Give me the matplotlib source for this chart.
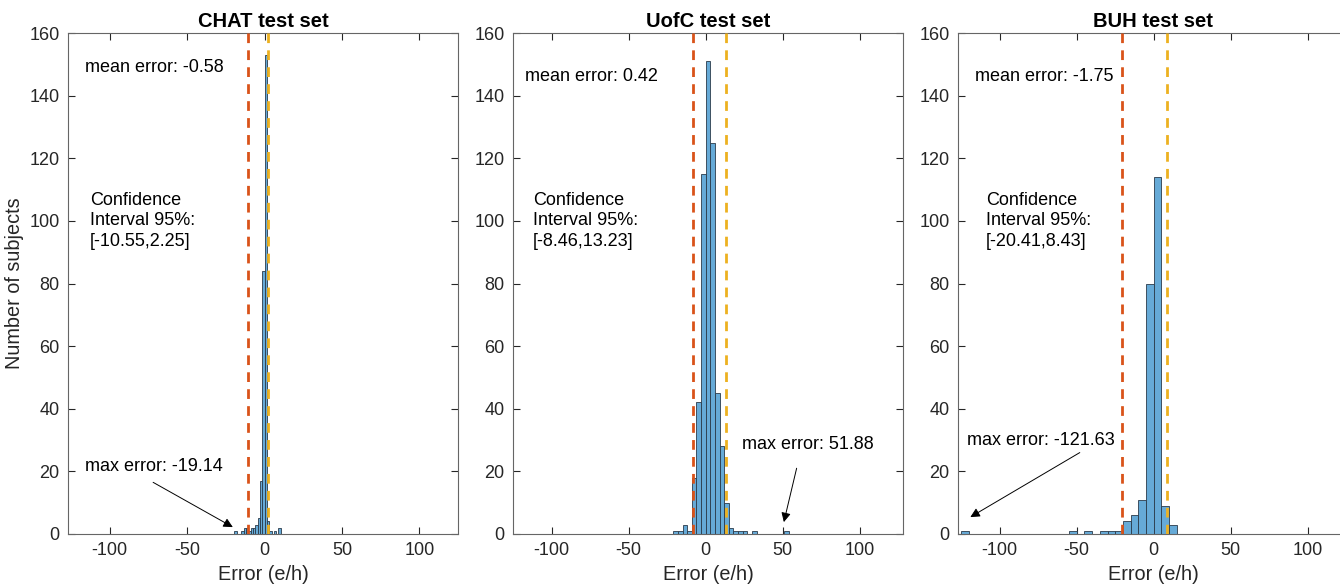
import numpy as np
import matplotlib
matplotlib.use("Agg")
from matplotlib import pyplot as plt

plt.rcParams['font.family'] = ['Liberation Sans', 'DejaVu Sans']
plt.rcParams['axes.unicode_minus'] = False

# -- data: histogram bin edges (left) and counts per test set -- #
chat_edges = [-19.5, -18, -16.5, -15, -13.5, -12, -10.5, -9, -7.5, -6, -4.5, -3, -1.5, 0, 1.5, 3, 4.5, 6, 7.5, 9]
chat_counts = [1, 0, 0, 1, 2, 2, 1, 2, 2, 3, 5, 17, 84, 153, 4, 1, 0, 1, 0, 2]
chat_width = 1.5

uofc_edges = [-21, -18, -15, -12, -9, -6, -3, 0, 3, 6, 9, 12, 15, 18, 21, 24, 27, 30, 33, 36, 39, 42, 45, 48, 51]
uofc_counts = [1, 1, 3, 1, 18, 42, 115, 151, 125, 45, 28, 10, 2, 1, 1, 1, 0, 1, 0, 0, 0, 0, 0, 0, 1]
uofc_width = 3

buh_edges = [-125, -120, -115, -110, -105, -100, -95, -90, -85, -80, -75, -70, -65, -60, -55, -50, -45, -40,
             -35, -30, -25, -20, -15, -10, -5, 0, 5, 10]
buh_counts = [1, 0, 0, 0, 0, 0, 0, 0, 0, 0, 0, 0, 0, 0, 1, 0, 1, 0,
              1, 1, 1, 4, 6, 11, 80, 114, 9, 3]
buh_width = 5

titles = ["CHAT test set", "UofC test set", "BUH test set"]
mean_err = [-0.58, 0.42, -1.75]
ci_low = [-10.55, -8.46, -20.41]
ci_high = [2.25, 13.23, 8.43]
max_err = [-19.14, 51.88, -121.63]
xlims = [(-127, 125), (-125, 128), (-127, 126)]

# text / arrow placement (data coords)
mean_pos = [(-116, 149), (-117, 146), (-116, 146)]
ci_pos = [(-113, 100), (-112, 100), (-109, 100)]
max_pos = [(-116, 21.5), (23.5, 28.5), (-121, 30)]
arrow_tail = [(-72, 16.5), (59, 21), (-48, 26)]
arrow_head = [(-20.5, 2.2), (50.7, 3.8), (-119, 5.4)]

edges_all = [chat_edges, uofc_edges, buh_edges]
counts_all = [chat_counts, uofc_counts, buh_counts]
widths = [chat_width, uofc_width, buh_width]

fig = plt.figure(figsize=(13.4, 5.86), dpi=100)
lefts = [68 / 1340, 513 / 1340, 958 / 1340]
bar_face = '#66aad7'
edge_col = '#2a3a4a'
axis_col = '#262626'

for i in range(3):
    ax = fig.add_axes([lefts[i], 1 - 534 / 586, 390 / 1340, 501 / 586])
    ax.bar(edges_all[i], counts_all[i], width=widths[i], align='edge',
           color=bar_face, edgecolor=edge_col, linewidth=0.6, zorder=2)
    ax.axvline(ci_low[i], color='#d95319', lw=2, ls=(0, (3.5, 2.6)), zorder=3)
    ax.axvline(ci_high[i], color='#edb120', lw=2, ls=(0, (3.5, 2.6)), zorder=3)

    ax.set_xlim(*xlims[i])
    ax.set_ylim(0, 160)
    ax.set_xticks([-100, -50, 0, 50, 100])
    ax.set_yticks(range(0, 161, 20))
    ax.tick_params(direction='in', top=True, right=True, length=5, width=0.8,
                   labelsize=13, colors=axis_col, pad=6)
    for s in ax.spines.values():
        s.set_color('#666666')
        s.set_linewidth(0.8)
    ax.set_title(titles[i], fontsize=14.5, fontweight='bold', pad=4)
    ax.set_xlabel("Error (e/h)", fontsize=14.3, color=axis_col, labelpad=4)
    if i == 0:
        ax.set_ylabel("Number of subjects", fontsize=14.3, color=axis_col, labelpad=4)

    ax.text(*mean_pos[i], f"mean error: {mean_err[i]:.2f}", fontsize=13, va='center', ha='left')
    ax.text(*ci_pos[i], f"Confidence\nInterval 95%:\n[{ci_low[i]:.2f},{ci_high[i]:.2f}]",
            fontsize=13, va='center', ha='left', linespacing=1.27)
    ax.text(*max_pos[i], f"max error: {max_err[i]:.2f}", fontsize=13, va='center', ha='left')
    ax.annotate("", xy=arrow_head[i], xytext=arrow_tail[i],
                arrowprops=dict(arrowstyle='-|>', color='black', lw=0.7, mutation_scale=14,
                                shrinkA=0, shrinkB=0))

fig.savefig("out.png", dpi=100)
